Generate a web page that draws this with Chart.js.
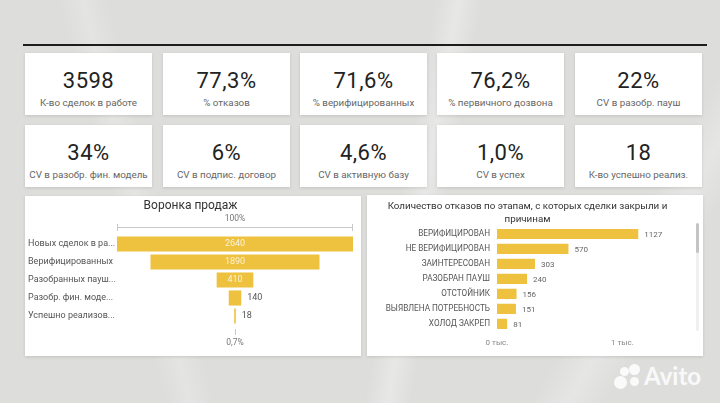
<!DOCTYPE html>
<html>
<head>
<meta charset="utf-8">
<script src="https://cdn.jsdelivr.net/npm/chart.js@4"></script>
<style>
  html, body { margin: 0; padding: 0; }
  body {
    width: 720px; height: 403px; overflow: hidden; position: relative;
    font-family: Roboto, "Noto Sans", sans-serif;
    background:
      linear-gradient(100deg, transparent 55%, rgba(255,255,255,0.3) 58%, transparent 61%),
      linear-gradient(75deg, transparent 20%, rgba(255,255,255,0.2) 23%, transparent 26%),
      linear-gradient(120deg, transparent 80%, rgba(255,255,255,0.25) 84%, transparent 88%),
      #dddedc;
  }
  .topline { position: absolute; left: 23px; top: 44px; width: 684px; height: 2px; background: #1c1c1c; }
  .card {
    position: absolute; background: #fff; width: 127px; height: 62px;
    box-shadow: 0 1px 3px rgba(0,0,0,0.12); text-align: center;
  }
  .card .num { position: absolute; left: 0; right: 0; top: 15px; font-size: 22px; color: #222; letter-spacing: 0.5px; }
  .card .lbl { position: absolute; left: 0; right: 0; top: 44px; font-size: 9.8px; color: #666; }
  .panel { position: absolute; background: #fff; box-shadow: 0 1px 3px rgba(0,0,0,0.12); }
  .panel canvas { position: absolute; left: 0; top: 0; }
  .scroll-track { position: absolute; left: 329px; top: 28px; width: 3px; height: 108px; background: #f0f0f0; border-radius: 2px; }
  .scroll-thumb { position: absolute; left: 329px; top: 28px; width: 3px; height: 30px; background: #c4c4c4; border-radius: 2px; }
  .avito { position: absolute; left: 612px; top: 362px; width: 100px; height: 30px; }
  .avito span { position: absolute; border-radius: 50%; background: rgba(255,255,255,0.85); }
  .avito .word { position: absolute; left: 32px; top: -1px; font: bold 24px Lato, "Liberation Sans", sans-serif; color: rgba(255,255,255,0.85); border-radius: 0; background: none; }
</style>
</head>
<body>
<div class="topline"></div>
<div id="cards"></div>

<div class="panel" style="left:25px; top:196px; width:336px; height:160px;">
  <canvas id="funnel" width="336" height="160"></canvas>
</div>
<div class="panel" style="left:367px; top:195px; width:336px; height:161px;">
  <canvas id="refusals" width="336" height="161"></canvas>
  <div class="scroll-track"></div>
  <div class="scroll-thumb"></div>
</div>

<div class="avito">
  <span style="left:8px; top:5px; width:9px; height:9px;"></span>
  <span style="left:17px; top:2px; width:11px; height:11px;"></span>
  <span style="left:2px; top:14px; width:13px; height:13px;"></span>
  <span style="left:18px; top:15px; width:9px; height:9px;"></span>
  <div class="word">Avito</div>
</div>

<script>
// ===== Data =====
const kpiValues = ["3598", "77,3%", "71,6%", "76,2%", "22%", "34%", "6%", "4,6%", "1,0%", "18"];
const kpiLabels = [
  "К-во сделок в работе", "% отказов", "% верифицированных", "% первичного дозвона", "CV в разобр. пауш",
  "CV в разобр. фин. модель", "CV в подпис. договор", "CV в активную базу", "CV в успех", "К-во успешно реализ."
];

const funnelLabels = ["Новых сделок в ра...", "Верифицированных", "Разобранных пауш...", "Разобр. фин. моде...", "Успешно реализов..."];
const funnelValues = [2640, 1890, 410, 140, 18];
const funnelTop = "100%";
const funnelBottom = "0,7%";

const refusalLabels = ["ВЕРИФИЦИРОВАН", "НЕ ВЕРИФИЦИРОВАН", "ЗАИНТЕРЕСОВАН", "РАЗОБРАН ПАУШ", "ОТСТОЙНИК", "ВЫЯВЛЕНА ПОТРЕБНОСТЬ", "ХОЛОД ЗАКРЕП"];
const refusalValues = [1127, 570, 303, 240, 156, 151, 81];
const refusalTicks = [0, 1000];

const YELLOW = "#EEC13F";

// ===== KPI cards =====
const cardX = [25, 163, 300, 437, 575];
const cardY = [53, 125];
const cardsEl = document.getElementById("cards");
kpiValues.forEach((v, i) => {
  const c = document.createElement("div");
  c.className = "card";
  c.style.left = cardX[i % 5] + "px";
  c.style.top = cardY[Math.floor(i / 5)] + "px";
  c.innerHTML = `<div class="num">${v}</div><div class="lbl">${kpiLabels[i]}</div>`;
  cardsEl.appendChild(c);
});

Chart.defaults.font.family = 'Roboto, "Noto Sans", sans-serif';
Chart.defaults.animation = false;

// ===== Funnel =====
const maxF = Math.max(...funnelValues);

const funnelLabelsPlugin = {
  id: "funnelLabels",
  afterDatasetsDraw(chart) {
    const ctx = chart.ctx;
    const area = chart.chartArea;
    const meta = chart.getDatasetMeta(0);
    ctx.save();
    ctx.font = "9px " + Chart.defaults.font.family;
    ctx.textBaseline = "middle";
    meta.data.forEach((bar, i) => {
      const left = Math.min(bar.x, bar.base);
      const right = Math.max(bar.x, bar.base);
      if (right - left > 30) {
        ctx.fillStyle = "rgba(255,255,255,0.8)";
        ctx.textAlign = "center";
        ctx.fillText(funnelValues[i], (left + right) / 2, bar.y);
      } else {
        ctx.fillStyle = "#555";
        ctx.textAlign = "left";
        ctx.fillText(funnelValues[i], right + 6, bar.y);
      }
    });
    // top 100% line
    const cx = (area.left + area.right) / 2;
    const ly = area.top - 8;
    ctx.strokeStyle = "#c8c8c8";
    ctx.lineWidth = 1;
    ctx.beginPath();
    ctx.moveTo(area.left, ly + 0.5); ctx.lineTo(area.right, ly + 0.5);
    ctx.moveTo(area.left + 0.5, ly - 3); ctx.lineTo(area.left + 0.5, ly + 4);
    ctx.moveTo(area.right - 0.5, ly - 3); ctx.lineTo(area.right - 0.5, ly + 4);
    // bottom tick
    ctx.moveTo(cx + 0.5, area.bottom + 4); ctx.lineTo(cx + 0.5, area.bottom + 10);
    ctx.stroke();
    ctx.fillStyle = "#777";
    ctx.textAlign = "center";
    ctx.font = "8.5px " + Chart.defaults.font.family;
    ctx.fillText(funnelTop, cx, area.top - 16);
    ctx.fillText(funnelBottom, cx, area.bottom + 18);
    ctx.restore();
  }
};

new Chart(document.getElementById("funnel"), {
  type: "bar",
  data: {
    labels: funnelLabels,
    datasets: [{
      data: funnelValues.map(v => [(maxF - v) / 2, (maxF + v) / 2]),
      backgroundColor: YELLOW,
      categoryPercentage: 1,
      barPercentage: 0.84
    }]
  },
  options: {
    indexAxis: "y",
    responsive: false,
    devicePixelRatio: 1,
    layout: { padding: { left: 3, right: 8, top: 0, bottom: 31 } },
    plugins: {
      legend: { display: false },
      tooltip: { enabled: false },
      title: {
        display: true,
        text: "Воронка продаж",
        color: "#333",
        font: { size: 12, weight: "normal" },
        padding: { top: 3, bottom: 21.6 }
      }
    },
    scales: {
      x: { display: false, min: 0, max: maxF },
      y: {
        grid: { display: false, drawTicks: false },
        border: { display: false },
        ticks: { crossAlign: "far", color: "#555", font: { size: 9 }, padding: 4, autoSkip: false },
        afterFit(s) { s.width = 89; }
      }
    }
  },
  plugins: [funnelLabelsPlugin]
});

// ===== Refusals =====
const refusalValuePlugin = {
  id: "refusalValues",
  afterDatasetsDraw(chart) {
    const ctx = chart.ctx;
    const meta = chart.getDatasetMeta(0);
    ctx.save();
    ctx.font = "8px " + Chart.defaults.font.family;
    ctx.fillStyle = "#666";
    ctx.textBaseline = "middle";
    ctx.textAlign = "left";
    meta.data.forEach((bar, i) => {
      ctx.fillText(refusalValues[i], bar.x + 6, bar.y + 1);
    });
    ctx.restore();
  }
};

new Chart(document.getElementById("refusals"), {
  type: "bar",
  data: {
    labels: refusalLabels,
    datasets: [{
      data: refusalValues,
      backgroundColor: YELLOW,
      categoryPercentage: 1,
      barPercentage: 0.68
    }]
  },
  options: {
    indexAxis: "y",
    responsive: false,
    devicePixelRatio: 1,
    layout: { padding: { left: 3, right: 18, top: 0, bottom: 1 } },
    plugins: {
      legend: { display: false },
      tooltip: { enabled: false },
      title: {
        display: true,
        text: ["Количество отказов по этапам, с которых сделки закрыли и", "причинам"],
        color: "#333",
        font: { size: 9.8, weight: "normal", lineHeight: 1.3 },
        padding: { top: 5, bottom: 1 }
      }
    },
    scales: {
      x: {
        min: 0, max: 1500,
        grid: { display: false, drawTicks: false },
        border: { display: false },
        afterBuildTicks(s) { s.ticks = refusalTicks.map(v => ({ value: v })); },
        ticks: {
          color: "#888", font: { size: 8 }, padding: 7, maxRotation: 0,
          callback: v => (v / 1000) + " тыс."
        }
      },
      y: {
        grid: { display: false, drawTicks: false },
        border: { display: false },
        ticks: { color: "#555", font: { size: 8.2 }, padding: 7, autoSkip: false },
        afterFit(s) { s.width = 127; }
      }
    }
  },
  plugins: [refusalValuePlugin]
});
</script>
</body>
</html>
